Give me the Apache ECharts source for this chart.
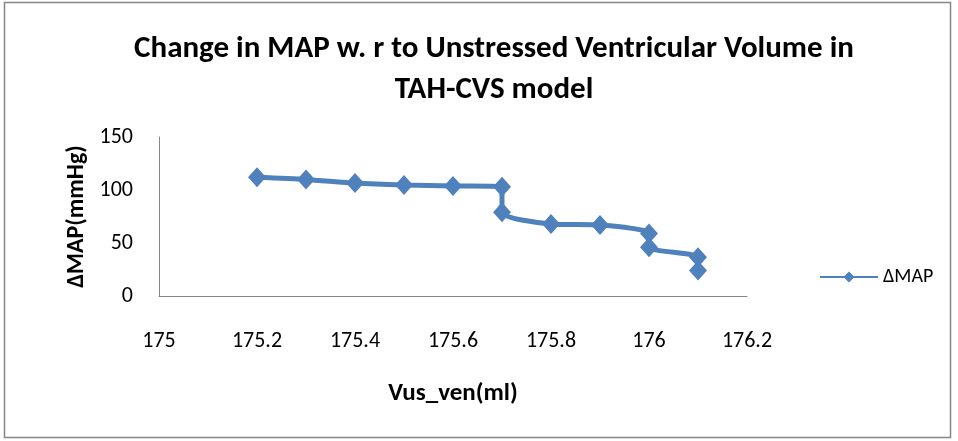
<!DOCTYPE html>
<html>
<head>
<meta charset="utf-8">
<script src="https://cdn.jsdelivr.net/npm/echarts@6/dist/echarts.min.js"></script>
<style>
  html, body { margin: 0; padding: 0; background: #fff; }
  #main { width: 958px; height: 441px; }
</style>
</head>
<body>
<div id="main"></div>
<script>
// Vus_ven (ml) against change in MAP (mmHg)
var vusVen = [175.2, 175.3, 175.4, 175.5, 175.6, 175.7, 175.7, 175.8, 175.9, 176, 176, 176.1, 176.1]
var deltaMap = [112, 110, 106.5, 104.7, 103.8, 103, 79, 68, 67, 59, 46, 36.5, 24]
var xTicks = [175, 175.2, 175.4, 175.6, 175.8, 176, 176.2]
var yTicks = [0, 50, 100, 150]

var font = 'Carlito, Lato, "Liberation Sans", sans-serif'
var chart = echarts.init(document.getElementById('main'))

var points = vusVen.map(function (x, i) {
  return [x, deltaMap[i]]
})

var option = {
  backgroundColor: '#fff',
  animation: false,
  title: {
    text: 'Change in MAP w. r to Unstressed Ventricular Volume in\nTAH-CVS model',
    left: 489,
    textAlign: 'center',
    top: 24,
    textStyle: {
      fontFamily: font,
      fontSize: 31,
      fontWeight: 'bold',
      color: '#000',
      lineHeight: 41
    }
  },
  graphic: [
    {
      type: 'rect',
      shape: { x: 4.5, y: 2.5, width: 946, height: 435 },
      style: { fill: null, stroke: '#868686', lineWidth: 1.5 },
      silent: true
    }
  ],
  legend: {
    data: ['ΔMAP'],
    left: 814,
    top: 262,
    itemWidth: 58,
    itemHeight: 14,
    itemGap: 6,
    textStyle: { fontFamily: font, fontSize: 20, color: '#000' }
  },
  grid: {
    left: 159,
    top: 137,
    right: 211,
    bottom: 145,
    containLabel: false
  },
  xAxis: {
    type: 'value',
    min: xTicks[0],
    max: xTicks[xTicks.length - 1],
    interval: 0.2,
    name: 'Vus_ven(ml)',
    nameLocation: 'middle',
    nameGap: 85,
    nameTextStyle: { fontFamily: font, fontSize: 25, fontWeight: 'bold', color: '#000' },
    axisLine: { lineStyle: { color: '#868686', width: 1 } },
    axisTick: { show: false },
    splitLine: { show: false },
    axisLabel: {
      margin: 34,
      fontFamily: font,
      fontSize: 22,
      color: '#000',
      formatter: function (v) {
        return String(Math.round(v * 10) / 10)
      }
    }
  },
  yAxis: {
    type: 'value',
    min: yTicks[0],
    max: yTicks[yTicks.length - 1],
    interval: 50,
    name: 'ΔMAP(mmHg)',
    nameLocation: 'middle',
    nameGap: 70,
    nameMoveOverlap: false,
    nameTextStyle: { fontFamily: font, fontSize: 24, fontWeight: 'bold', color: '#000' },
    axisLine: { show: true, lineStyle: { color: '#868686', width: 1 } },
    axisTick: { show: false },
    splitLine: { show: false },
    axisLabel: {
      margin: 26,
      fontFamily: font,
      fontSize: 22,
      color: '#000'
    }
  },
  series: [
    {
      name: 'ΔMAP',
      type: 'line',
      data: points,
      smooth: 0.25,
      symbol: 'diamond',
      symbolSize: [18, 20],
      lineStyle: { color: '#4F81BD', width: 5 },
      itemStyle: { color: '#4F81BD' }
    }
  ]
}

chart.setOption(option)
</script>
</body>
</html>
